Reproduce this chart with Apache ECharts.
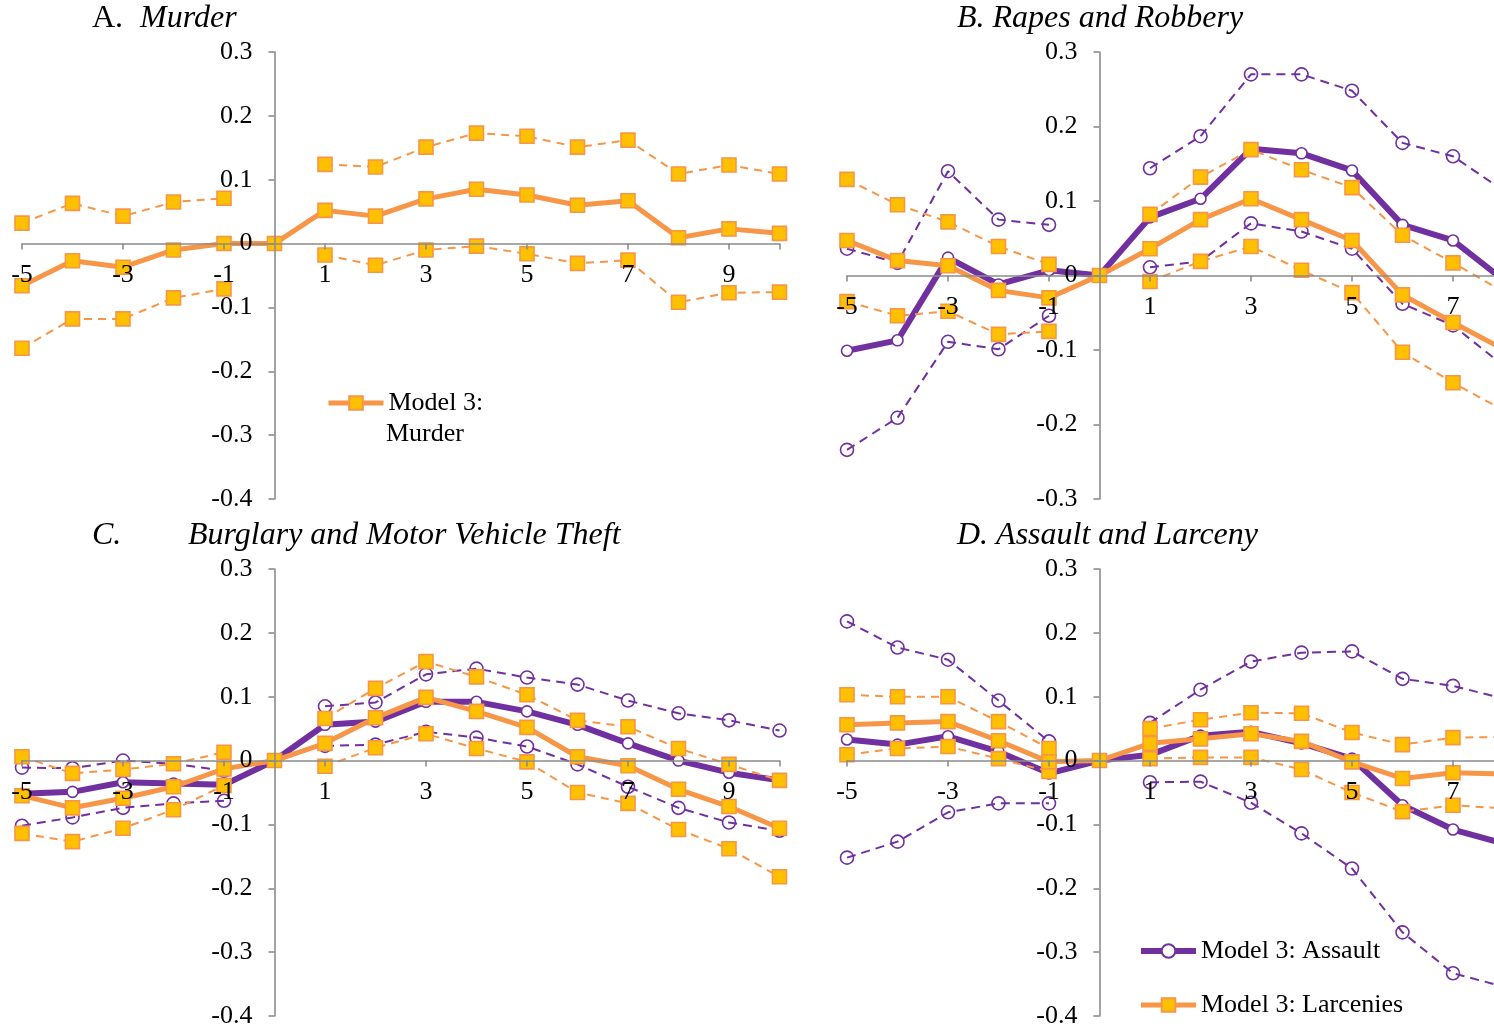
<!DOCTYPE html>
<html><head><meta charset="utf-8">
<script src="https://cdn.jsdelivr.net/npm/echarts@6/dist/echarts.min.js"></script>
<style>html,body{margin:0;padding:0;background:#fff}#c{width:1494px;height:1028px}</style>
</head><body><div id="c"></div>
<script>
// Event-time periods
const periodsAC = [-5,-4,-3,-2,-1,0,1,2,3,4,5,6,7,8,9,10];
const periodsBD = [-5,-4,-3,-2,-1,0,1,2,3,4,5,6,7,8];

// Panel A: Murder
const murderEst = [-0.066,-0.027,-0.037,-0.010,0.000,0,0.052,0.043,0.070,0.085,0.076,0.060,0.067,0.009,0.023,0.016];
const murderHi  = [0.032,0.063,0.043,0.065,0.071,null,0.124,0.120,0.151,0.173,0.168,0.151,0.162,0.109,0.123,0.109];
const murderLo  = [-0.164,-0.118,-0.118,-0.085,-0.071,null,-0.018,-0.034,-0.010,-0.004,-0.016,-0.031,-0.026,-0.092,-0.077,-0.076];

// Panel B: Rapes (purple) and Robbery (orange)
const rapeEst = [-0.101,-0.087,0.024,-0.012,0.007,0,0.078,0.103,0.170,0.164,0.141,0.068,0.047,-0.006];
const rapeHi  = [0.036,0.017,0.140,0.075,0.068,null,0.144,0.187,0.270,0.270,0.248,0.178,0.160,0.114];
const rapeLo  = [-0.234,-0.191,-0.089,-0.099,-0.054,null,0.011,0.019,0.070,0.059,0.036,-0.038,-0.067,-0.121];
const robEst  = [0.047,0.020,0.013,-0.020,-0.030,0,0.036,0.075,0.103,0.075,0.047,-0.026,-0.063,-0.099];
const robHi   = [0.129,0.095,0.072,0.039,0.015,null,0.082,0.132,0.169,0.142,0.118,0.054,0.017,-0.022];
const robLo   = [-0.035,-0.054,-0.048,-0.079,-0.075,null,-0.008,0.019,0.039,0.007,-0.023,-0.103,-0.144,-0.181];

// Panel C: Burglary (purple) and Motor Vehicle Theft (orange)
const burgEst = [-0.052,-0.049,-0.034,-0.036,-0.038,0,0.056,0.061,0.092,0.092,0.077,0.056,0.027,0.000,-0.019,-0.031];
const burgHi  = [-0.011,-0.012,0.000,-0.005,-0.016,null,0.085,0.091,0.135,0.144,0.130,0.119,0.094,0.074,0.063,0.047];
const burgLo  = [-0.102,-0.089,-0.074,-0.067,-0.063,null,0.023,0.025,0.045,0.036,0.022,-0.006,-0.041,-0.074,-0.097,-0.110];
const mvtEst  = [-0.055,-0.074,-0.059,-0.041,-0.013,0,0.027,0.067,0.099,0.077,0.052,0.006,-0.008,-0.045,-0.072,-0.106];
const mvtHi   = [0.006,-0.020,-0.014,-0.005,0.013,null,0.066,0.113,0.155,0.131,0.103,0.063,0.053,0.019,-0.006,-0.031];
const mvtLo   = [-0.114,-0.127,-0.106,-0.077,-0.039,null,-0.009,0.020,0.042,0.019,-0.002,-0.050,-0.067,-0.108,-0.138,-0.182];

// Panel D: Assault (purple) and Larceny (orange)
const assEst = [0.033,0.025,0.038,0.014,-0.020,0,0.009,0.039,0.045,0.027,0.003,-0.070,-0.108,-0.130];
const assHi  = [0.218,0.177,0.158,0.094,0.030,null,0.059,0.111,0.155,0.169,0.171,0.128,0.117,0.097];
const assLo  = [-0.152,-0.127,-0.081,-0.067,-0.067,null,-0.034,-0.033,-0.066,-0.114,-0.169,-0.269,-0.333,-0.354];
const larEst = [0.056,0.059,0.061,0.031,-0.002,0,0.027,0.034,0.042,0.030,-0.002,-0.028,-0.019,-0.021];
const larHi  = [0.103,0.100,0.100,0.061,0.019,null,0.050,0.064,0.075,0.074,0.044,0.025,0.036,0.037];
const larLo  = [0.009,0.019,0.022,0.003,-0.017,null,0.003,0.005,0.005,-0.014,-0.050,-0.080,-0.070,-0.075];

const PURPLE = '#7030A0', ORANGE = '#F79646', GOLD = '#FFC000';
const FONT = '"Liberation Serif","Times New Roman",serif';
const AXIS = '#8c8c8c';

function pairs(xs, ys){ return xs.map((x,i)=>[x, ys[i]==null ? '-' : ys[i]]); }

function purpleSeries(name, g, xs, ys, main){
  return {type:'line', name:name, xAxisIndex:g, yAxisIndex:g, data:pairs(xs,ys),
    symbol:'circle', symbolSize: main?11:13, showSymbol:true, connectNulls:false,
    lineStyle:{color:PURPLE, width: main?6:2, type: main?'solid':[9,6]},
    itemStyle:{color: main?'#fff':'rgba(255,255,255,0)', borderColor:PURPLE, borderWidth:1.6},
    z: main?3:2, silent:true};
}
function orangeSeries(name, g, xs, ys, main){
  return {type:'line', name:name, xAxisIndex:g, yAxisIndex:g, data:pairs(xs,ys),
    symbol:'rect', symbolSize:14, showSymbol:true, connectNulls:false,
    lineStyle:{color:ORANGE, width: main?5:2, type: main?'solid':[8,6]},
    itemStyle:{color:GOLD, borderColor:ORANGE, borderWidth:1.6},
    z: main?5:4, silent:true};
}

const X_MIN = -5, X_MAX = 10;
const grids = [
  {left:22, top:52, width:757.5, height:447},
  {left:847, top:52, width:757.5, height:447},
  {left:22, top:569, width:757.5, height:447},
  {left:847, top:569, width:757.5, height:447}
].map(g=>Object.assign(g,{containLabel:false, outerBoundsMode:'none'}));
const yRanges = [[-0.4,0.3],[-0.3,0.3],[-0.4,0.3],[-0.4,0.3]];

// place each axis through the other's zero using offsets computed from the scales
const xAxes = grids.map((g,i)=>{
  const [lo,hi] = yRanges[i];
  const zeroFromBottom = g.height * (0 - lo) / (hi - lo);
  return {type:'value', gridIndex:i, min:X_MIN, max:X_MAX, interval:2, position:'bottom',
    offset:-zeroFromBottom, z:10,
    axisLine:{show:true, onZero:false, lineStyle:{color:AXIS, width:1.6}},
    axisTick:{show:true, length:6, lineStyle:{color:AXIS, width:1.6}},
    splitLine:{show:false},
    axisLabel:{margin:19, fontSize:26, fontFamily:FONT, color:'#000',
      formatter:v=> (v===10 ? '' : String(Math.round(v)))}};
});
const yAxes = grids.map((g,i)=>{
  const zeroFromLeft = g.width * (0 - X_MIN) / (X_MAX - X_MIN);
  return {type:'value', gridIndex:i, min:yRanges[i][0], max:yRanges[i][1], interval:0.1, position:'left',
    offset:-zeroFromLeft, z:10,
    axisLine:{show:true, onZero:false, lineStyle:{color:AXIS, width:1.6}},
    axisTick:{show:true, length:6, lineStyle:{color:AXIS, width:1.6}},
    splitLine:{show:false},
    axisLabel:{margin:22, fontSize:26, fontFamily:FONT, color:'#000',
      formatter:v=> String(Math.round(v*10)/10)}};
});

const series = [
  orangeSeries('A hi',0,periodsAC,murderHi,false),
  orangeSeries('A lo',0,periodsAC,murderLo,false),
  orangeSeries('Model 3: Murder',0,periodsAC,murderEst,true),

  purpleSeries('B p hi',1,periodsBD,rapeHi,false),
  purpleSeries('B p lo',1,periodsBD,rapeLo,false),
  purpleSeries('B p est',1,periodsBD,rapeEst,true),
  orangeSeries('B o hi',1,periodsBD,robHi,false),
  orangeSeries('B o lo',1,periodsBD,robLo,false),
  orangeSeries('B o est',1,periodsBD,robEst,true),

  purpleSeries('C p hi',2,periodsAC,burgHi,false),
  purpleSeries('C p lo',2,periodsAC,burgLo,false),
  purpleSeries('C p est',2,periodsAC,burgEst,true),
  orangeSeries('C o hi',2,periodsAC,mvtHi,false),
  orangeSeries('C o lo',2,periodsAC,mvtLo,false),
  orangeSeries('C o est',2,periodsAC,mvtEst,true),

  purpleSeries('D p hi',3,periodsBD,assHi,false),
  purpleSeries('D p lo',3,periodsBD,assLo,false),
  purpleSeries('Model 3: Assault',3,periodsBD,assEst,true),
  orangeSeries('D o hi',3,periodsBD,larHi,false),
  orangeSeries('D o lo',3,periodsBD,larLo,false),
  orangeSeries('Model 3: Larcenies',3,periodsBD,larEst,true)
];

const tStyle = (italic)=>({fontSize:32, fontFamily:FONT, fontStyle: italic?'italic':'normal', fontWeight:'normal', color:'#000'});
const titles = [
  {text:'A.', left:92, top:3, padding:0, textStyle:tStyle(false)},
  {text:'Murder', left:140, top:3, padding:0, textStyle:tStyle(true)},
  {text:'B. Rapes and Robbery', left:957, top:3, padding:0, textStyle:tStyle(true)},
  {text:'C.', left:92, top:520, padding:0, textStyle:tStyle(true)},
  {text:'Burglary and Motor Vehicle Theft', left:188, top:520, padding:0, textStyle:tStyle(true)},
  {text:'D. Assault and Larceny', left:957, top:520, padding:0, textStyle:tStyle(true)},
  // second line of the panel A legend label
  {text:'Murder', left:386, top:421, padding:0, textStyle:{fontSize:26, fontFamily:FONT, fontWeight:'normal', color:'#000'}}
];

const legText = {fontSize:26, fontFamily:FONT, color:'#000', lineHeight:30};
const legends = [
  {data:[{name:'Model 3: Murder', lineStyle:{width:5}}], left:326, top:388, padding:0,
   itemWidth:55, itemHeight:17, itemGap:0, selectedMode:false,
   formatter:()=> 'Model 3:', textStyle:legText},
  {data:[{name:'Model 3: Assault', lineStyle:{width:6}}, {name:'Model 3: Larcenies', lineStyle:{width:5}}],
   orient:'vertical', left:1138, top:936, padding:0,
   itemWidth:55, itemHeight:17, itemGap:24, selectedMode:false, textStyle:legText}
];

const chart = echarts.init(document.getElementById('c'), null, {renderer:'canvas'});
chart.setOption({
  animation:false,
  backgroundColor:'#fff',
  title:titles,
  legend:legends,
  grid:grids,
  xAxis:xAxes,
  yAxis:yAxes,
  series:series
});
</script></body></html>
